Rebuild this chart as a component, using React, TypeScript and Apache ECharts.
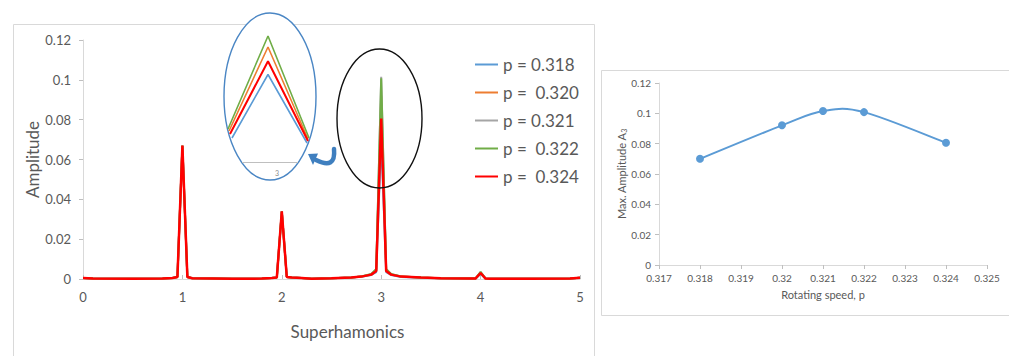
import React, { useEffect, useRef } from "react";
import * as echarts from "echarts";

// ---------- Left chart: spectrum ----------
const harmonicX = [0, 0.1, 0.5, 0.8, 0.9, 0.95, 1, 1.05, 1.1, 1.5, 1.8, 1.9, 1.95, 2, 2.05, 2.1, 2.2, 2.3, 2.5, 2.7, 2.8, 2.9, 2.95, 3, 3.05, 3.1, 3.2, 3.4, 3.6, 3.9, 3.95, 4, 4.05, 4.1, 4.5, 4.9, 5];

const ampP318 = [0.0005, 0.0002, 0.0001, 0.0002, 0.0005, 0.001, 0.0668, 0.001, 0.0004, 0.0001, 0.0002, 0.0005, 0.0008, 0.0338, 0.001, 0.0007, 0.0005, 0.0001, 0.0004, 0.0008, 0.0011, 0.002, 0.0035, 0.070, 0.0035, 0.002, 0.001, 0.0006, 0.0004, 0.0002, 0.0003, 0.0025, 0.0002, 0.0001, 0.0001, 0.0002, 0.0006];
const ampP320 = [0.0005, 0.0002, 0.0001, 0.0002, 0.0005, 0.001, 0.0669, 0.001, 0.0004, 0.0001, 0.0002, 0.0005, 0.0008, 0.0339, 0.001, 0.0007, 0.0005, 0.0001, 0.0004, 0.0008, 0.0012, 0.0022, 0.0042, 0.092, 0.0042, 0.0022, 0.0012, 0.0007, 0.0004, 0.0002, 0.0003, 0.003, 0.0002, 0.0001, 0.0001, 0.0002, 0.0006];
const ampP321 = [0.0005, 0.0002, 0.0001, 0.0002, 0.0005, 0.001, 0.067, 0.001, 0.0004, 0.0001, 0.0002, 0.0005, 0.0008, 0.034, 0.001, 0.0007, 0.0005, 0.0001, 0.0004, 0.0008, 0.0013, 0.0024, 0.0048, 0.1015, 0.0048, 0.0024, 0.0013, 0.0007, 0.0004, 0.0002, 0.0003, 0.0034, 0.0002, 0.0001, 0.0001, 0.0002, 0.0006];
const ampP322 = [0.0005, 0.0002, 0.0001, 0.0002, 0.0005, 0.001, 0.067, 0.001, 0.0004, 0.0001, 0.0002, 0.0005, 0.0008, 0.034, 0.001, 0.0007, 0.0005, 0.0001, 0.0004, 0.0008, 0.0013, 0.0025, 0.005, 0.1008, 0.005, 0.0025, 0.0013, 0.0007, 0.0004, 0.0002, 0.0003, 0.0036, 0.0002, 0.0001, 0.0001, 0.0002, 0.0006];
const ampP324 = [0.0005, 0.0002, 0.0001, 0.0002, 0.0005, 0.001, 0.067, 0.001, 0.0004, 0.0001, 0.0002, 0.0005, 0.0008, 0.034, 0.001, 0.0007, 0.0005, 0.0001, 0.0004, 0.0008, 0.0012, 0.0022, 0.004, 0.0806, 0.004, 0.0022, 0.0012, 0.0007, 0.0004, 0.0002, 0.0003, 0.003, 0.0002, 0.0001, 0.0001, 0.0002, 0.0006];

const seriesNames = ["p = 0.318", "p =  0.320", "p = 0.321", "p =  0.322", "p =  0.324"];
const seriesColors = ["#5B9BD5", "#ED7D31", "#A5A5A5", "#70AD47", "#FF0000"];
const seriesValues = [ampP318, ampP320, ampP321, ampP322, ampP324];

// ---------- Inset (zoom of the peak at 3) ----------
const insetNames = ["p = 0.318", "p =  0.320", "p =  0.324", "p =  0.322"];
const insetColors = ["#5B9BD5", "#ED7D31", "#FF0000", "#70AD47"];
const insetX = [
  [2.964, 3.0, 3.039],
  [2.961, 3.0, 3.040],
  [2.962, 3.0, 3.040],
  [2.960, 3.0, 3.041],
];
const insetY = [
  [0.0192, 0.070, 0.0152],
  [0.0248, 0.092, 0.0184],
  [0.0224, 0.0806, 0.0168],
  [0.0264, 0.1008, 0.0192],
];

// ---------- Right chart: max amplitude vs speed ----------
const speedP = [0.318, 0.32, 0.321, 0.322, 0.324];
const maxAmpA3 = [0.070, 0.0921, 0.1015, 0.1008, 0.0806];

const txt = "#595959";
const axisGray = "#D9D9D9";
const lineBlue = "#5B9BD5";

export default function App() {
  const ref = useRef<HTMLDivElement>(null);
  useEffect(() => {
    if (!ref.current) return;
    const chart = echarts.init(ref.current, undefined, { renderer: "svg" });

    const mainSeries = seriesNames.map((name, i) => ({
      name,
      type: "line",
      xAxisIndex: 0,
      yAxisIndex: 0,
      data: harmonicX.map((x, k) => [x, seriesValues[i][k]]),
      symbol: "none",
      lineStyle: { color: seriesColors[i], width: i === 4 ? 2.5 : 2 },
      itemStyle: { color: seriesColors[i] },
      silent: true,
    }));

    const insetSeries = insetNames.map((name, i) => ({
      name: "inset " + name,
      type: "line",
      xAxisIndex: 2,
      yAxisIndex: 2,
      data: insetX[i].map((x, k) => [x, insetY[i][k]]),
      symbol: "none",
      lineStyle: { color: insetColors[i], width: insetColors[i] === "#FF0000" ? 2 : 1.6 },
      silent: true,
      z: 3,
    }));

    // Excel-like (Catmull-Rom) smoothed line through the data, using the axis scales
    const smoothRender = (params: any, api: any) => {
      const i = params.dataIndex;
      const n = speedP.length;
      if (i >= n - 1) return { type: "group", children: [] };
      const pt = (k: number) => {
        const kk = Math.max(0, Math.min(n - 1, k));
        return api.coord([speedP[kk], maxAmpA3[kk]]);
      };
      const p0 = pt(i - 1);
      const p1 = pt(i);
      const p2 = pt(i + 1);
      const p3 = pt(i + 2);
      const t = 1 / 6;
      return {
        type: "bezierCurve",
        shape: {
          x1: p1[0],
          y1: p1[1],
          x2: p2[0],
          y2: p2[1],
          cpx1: p1[0] + (p2[0] - p0[0]) * t,
          cpy1: p1[1] + (p2[1] - p0[1]) * t,
          cpx2: p2[0] - (p3[0] - p1[0]) * t,
          cpy2: p2[1] - (p3[1] - p1[1]) * t,
        },
        style: { fill: "none", stroke: lineBlue, lineWidth: 2 },
        silent: true,
      };
    };

    const option: any = {
      animation: false,
      textStyle: { fontFamily: "Lato, 'Noto Sans', sans-serif" },
      legend: {
        data: seriesNames.map((n) => ({ name: n, icon: "rect" })),
        orient: "vertical",
        left: 470,
        top: 51,
        itemWidth: 23,
        itemHeight: 2,
        itemGap: 11,
        selectedMode: false,
        textStyle: { color: txt, fontSize: 17, lineHeight: 17 },
      },
      grid: [
        { left: 83, top: 40, width: 497, height: 239 },
        { left: 659, top: 83, width: 328, height: 182 },
        { left: 223, top: 12, width: 90, height: 150 },
      ],
      xAxis: [
        {
          gridIndex: 0,
          type: "value",
          min: 0,
          max: 5,
          interval: 1,
          splitLine: { show: false },
          axisLine: { lineStyle: { color: axisGray, width: 1 } },
          axisTick: { inside: true, length: 4, lineStyle: { color: "#BFBFBF" } },
          axisLabel: { color: txt, fontSize: 13, margin: 11 },
          name: "Superhamonics",
          nameLocation: "middle",
          nameGap: 44,
          nameTextStyle: { color: txt, fontSize: 17, padding: [0, 0, 0, 32] },
        },
        {
          gridIndex: 1,
          type: "value",
          min: 0.317,
          max: 0.325,
          interval: 0.001,
          splitLine: { show: false },
          axisLine: { lineStyle: { color: axisGray, width: 1 } },
          axisTick: { length: 4, lineStyle: { color: "#BFBFBF" } },
          axisLabel: { color: txt, fontSize: 10, margin: 8 },
          name: "Rotating speed, p",
          nameLocation: "middle",
          nameGap: 24,
          nameTextStyle: { color: txt, fontSize: 11 },
        },
        {
          gridIndex: 2,
          type: "value",
          min: 2.955,
          max: 3.045,
          show: false,
        },
      ],
      yAxis: [
        {
          gridIndex: 0,
          type: "value",
          min: 0,
          max: 0.12,
          interval: 0.02,
          splitLine: { show: false },
          axisLine: { show: true, lineStyle: { color: axisGray, width: 1 } },
          axisTick: { show: true, length: 4, lineStyle: { color: "#BFBFBF" } },
          axisLabel: { color: txt, fontSize: 13, margin: 12 },
          name: "Amplitude",
          nameLocation: "middle",
          nameGap: 42,
          nameTextStyle: { color: txt, fontSize: 17 },
        },
        {
          gridIndex: 1,
          type: "value",
          min: 0,
          max: 0.12,
          interval: 0.02,
          splitLine: { show: false },
          axisLine: { show: true, lineStyle: { color: axisGray, width: 1 } },
          axisTick: { show: true, length: 4, lineStyle: { color: "#BFBFBF" } },
          axisLabel: { color: txt, fontSize: 10, margin: 8 },
          name: "Max. Amplitude A{s|3}",
          nameLocation: "middle",
          nameGap: 30,
          nameTextStyle: {
            color: txt,
            fontSize: 11,
            rich: { s: { fontSize: 7, color: txt, verticalAlign: "bottom", lineHeight: 12 } },
          },
        },
        {
          gridIndex: 2,
          type: "value",
          min: 0,
          max: 0.12,
          show: false,
        },
      ],
      graphic: [
        {
          type: "rect",
          z: 0,
          shape: { x: 13.5, y: 24.5, width: 581, height: 345 },
          style: { fill: "none", stroke: "#D9D9D9", lineWidth: 1 },
          silent: true,
        },
        {
          type: "rect",
          z: 0,
          shape: { x: 601.5, y: 70.5, width: 420, height: 245 },
          style: { fill: "none", stroke: "#D9D9D9", lineWidth: 1 },
          silent: true,
        },
        {
          type: "ellipse",
          z: 1,
          shape: { cx: 270, cy: 96.5, rx: 46, ry: 83.5 },
          style: { fill: "#ffffff", stroke: "#4A86C4", lineWidth: 1.4 },
          silent: true,
        },
        {
          type: "line",
          z: 2,
          shape: { x1: 242, y1: 162.5, x2: 298, y2: 162.5 },
          style: { stroke: "#BFBFBF", lineWidth: 1 },
          silent: true,
        },
        {
          type: "text",
          z: 2,
          x: 277,
          y: 173,
          style: { text: "3", fill: "#8C8C8C", fontSize: 7, align: "center", verticalAlign: "middle", fontFamily: "Lato" },
          silent: true,
        },
        {
          type: "ellipse",
          z: 10,
          shape: { cx: 379.5, cy: 118.5, rx: 42.5, ry: 69.5 },
          style: { fill: "none", stroke: "#111111", lineWidth: 1.4 },
          silent: true,
        },
        {
          type: "bezierCurve",
          z: 10,
          shape: { x1: 334, y1: 149, cpx1: 336, cpy1: 170, x2: 316, y2: 160 },
          style: { fill: "none", stroke: "#3F7FBF", lineWidth: 4.5, lineCap: "round" },
          silent: true,
        },
        {
          type: "polygon",
          z: 10,
          shape: { points: [[308, 154], [318, 153.5], [313, 165]] },
          style: { fill: "#3F7FBF" },
          silent: true,
        },
      ],
      series: [
        ...mainSeries,
        ...insetSeries,
        {
          name: "A3 curve",
          type: "custom",
          xAxisIndex: 1,
          yAxisIndex: 1,
          data: speedP.map((p, i) => [p, maxAmpA3[i]]),
          renderItem: smoothRender,
          silent: true,
          z: 2,
        },
        {
          name: "A3",
          type: "scatter",
          xAxisIndex: 1,
          yAxisIndex: 1,
          data: speedP.map((p, i) => [p, maxAmpA3[i]]),
          symbol: "circle",
          symbolSize: 8,
          itemStyle: { color: lineBlue, opacity: 1 },
          silent: true,
          z: 3,
        },
      ],
    };
    chart.setOption(option);
    return () => chart.dispose();
  }, []);
  return (
    <div
      ref={ref}
      style={{ position: "absolute", left: 0, top: 0, width: 1009, height: 356, background: "#ffffff" }}
    />
  );
}
